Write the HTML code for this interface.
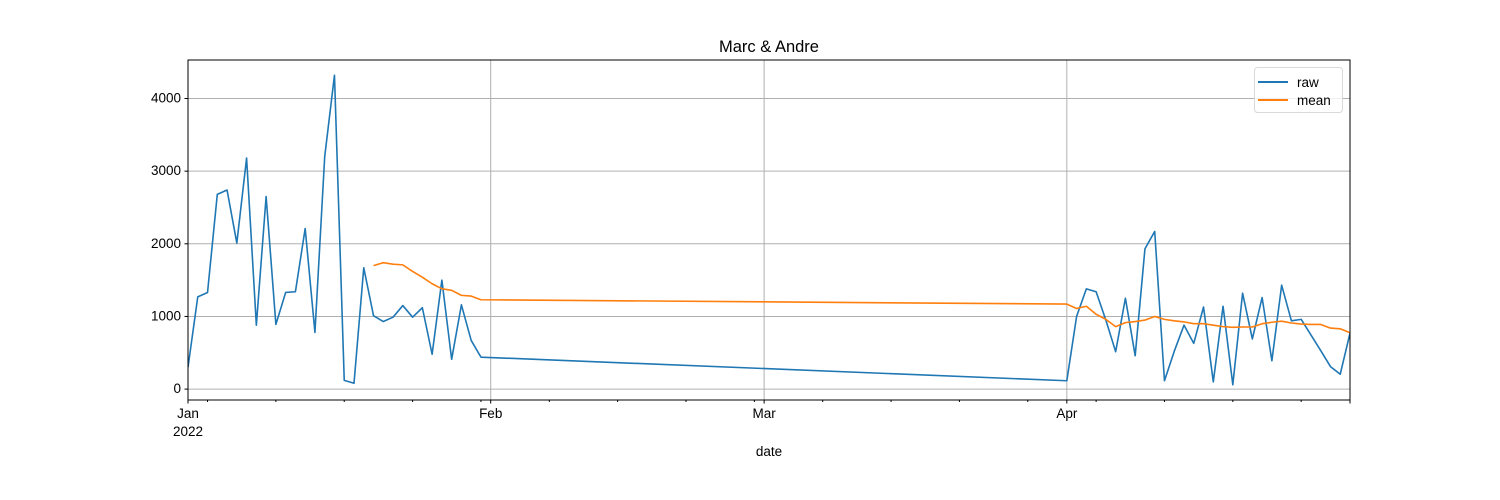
<!DOCTYPE html>
<html><head><meta charset="utf-8">
<style>
html,body{margin:0;padding:0;background:#fff;}
svg{display:block;font-family:"Liberation Sans","DejaVu Sans",sans-serif;}
</style></head>
<body>
<svg id="chart" width="1500" height="500" xmlns="http://www.w3.org/2000/svg"></svg>
<script>
// ---- data ----
const janRawDays = ["2022-01-01","2022-01-02","2022-01-03","2022-01-04","2022-01-05","2022-01-06","2022-01-07","2022-01-08","2022-01-09","2022-01-10","2022-01-11","2022-01-12","2022-01-13","2022-01-14","2022-01-15","2022-01-16","2022-01-17","2022-01-18","2022-01-19","2022-01-20","2022-01-21","2022-01-22","2022-01-23","2022-01-24","2022-01-25","2022-01-26","2022-01-27","2022-01-28","2022-01-29","2022-01-30","2022-01-31"];
const janRawValues = [300,1270,1330,2680,2740,2010,3180,880,2650,890,1330,1340,2210,780,3200,4320,120,80,1670,1010,930,990,1150,990,1120,480,1500,410,1160,670,440];
const aprRawDays = ["2022-04-01","2022-04-02","2022-04-03","2022-04-04","2022-04-05","2022-04-06","2022-04-07","2022-04-08","2022-04-09","2022-04-10","2022-04-11","2022-04-12","2022-04-13","2022-04-14","2022-04-15","2022-04-16","2022-04-17","2022-04-18","2022-04-19","2022-04-20","2022-04-21","2022-04-22","2022-04-23","2022-04-24","2022-04-25","2022-04-26","2022-04-27","2022-04-28","2022-04-29","2022-04-30"];
const aprRawValues = [115,1000,1380,1340,950,515,1250,460,1930,2170,115,520,880,630,1130,100,1140,60,1320,690,1260,390,1430,940,960,745,530,310,205,770];
const janMeanDays = ["2022-01-20","2022-01-21","2022-01-22","2022-01-23","2022-01-24","2022-01-25","2022-01-26","2022-01-27","2022-01-28","2022-01-29","2022-01-30","2022-01-31"];
const janMeanValues = [1700,1740,1720,1710,1620,1540,1450,1380,1360,1290,1280,1230];
const aprMeanValues = [1170,1110,1140,1030,960,860,915,930,950,1000,960,940,925,900,900,880,860,850,855,855,900,920,935,910,895,890,890,840,830,775];
const yTicks = [0,1000,2000,3000,4000];
const monthTicks = ["2022-01-01","2022-02-01","2022-03-01","2022-04-01"];
const monthLabels = ["Jan","Feb","Mar","Apr"];

// ---- layout ----
const L=188, R=1350, T=60, B=400;
const d0 = Date.UTC(2022,0,1), d1 = Date.UTC(2022,3,30);
const dayMs = 86400000;
function tOf(s){const p=s.split("-");return Date.UTC(+p[0],+p[1]-1,+p[2]);}
function xs(s){return L + (tOf(s)-d0)/(d1-d0)*(R-L);}
const yMin=-150, yMax=4530;
function ys(v){return B - (v-yMin)/(yMax-yMin)*(B-T);}

const svg=document.getElementById("chart");
const NS="http://www.w3.org/2000/svg";
function mk(tag,attrs,parent){const e=document.createElementNS(NS,tag);for(const k in attrs)e.setAttribute(k,attrs[k]);(parent||svg).appendChild(e);return e;}

// grid
const grid=mk("g",{});


yTicks.forEach(v=>{const y=ys(v);mk("line",{x1:L,x2:R,y1:y,y2:y,stroke:"#b0b0b0","stroke-width":1},grid);});
monthTicks.forEach(m=>{const x=xs(m);mk("line",{x1:x,x2:x,y1:T,y2:B,stroke:"#b0b0b0","stroke-width":1},grid);});

// series
function poly(days,vals,color,name){
  const pts=days.map((d,i)=>xs(d).toFixed(2)+","+ys(vals[i]).toFixed(2)).join(" ");
  const p=mk("polyline",{points:pts,fill:"none",stroke:color,"stroke-width":1.6,"stroke-linejoin":"round"});
  
  
}
const clip=mk("clipPath",{id:"c"});mk("rect",{x:L,y:T,width:R-L,height:B-T},clip);
const g=mk("g",{"clip-path":"url(#c)"});
const rawDays=janRawDays.concat(aprRawDays), rawVals=janRawValues.concat(aprRawValues);
const meanDays=janMeanDays.concat(aprRawDays), meanVals=janMeanValues.concat(aprMeanValues);
(function(){const pts=rawDays.map((d,i)=>xs(d).toFixed(2)+","+ys(rawVals[i]).toFixed(2)).join(" ");
 const p=mk("polyline",{points:pts,fill:"none",stroke:"#1f77b4","stroke-width":1.6,"stroke-linejoin":"round"},g);
 
 })();
(function(){const pts=meanDays.map((d,i)=>xs(d).toFixed(2)+","+ys(meanVals[i]).toFixed(2)).join(" ");
 const p=mk("polyline",{points:pts,fill:"none",stroke:"#ff7f0e","stroke-width":1.6,"stroke-linejoin":"round"},g);
 
 })();

// frame
const frame=mk("rect",{x:L,y:T,width:R-L,height:B-T,fill:"none",stroke:"#000","stroke-width":1});



// y ticks
yTicks.forEach(v=>{const y=ys(v);mk("line",{x1:L-3.5,x2:L,y1:y,y2:y,stroke:"#000"});
 const t=mk("text",{x:L-7,y:y+4,"text-anchor":"end","font-size":13.5});t.textContent=v;
 
 });

// x minor ticks (Mondays)
for(let t=Date.UTC(2022,0,3);t<=d1;t+=7*dayMs){const x=L+(t-d0)/(d1-d0)*(R-L);mk("line",{x1:x,x2:x,y1:B,y2:B+2,stroke:"#000"});}
// x major ticks
monthTicks.forEach((m,i)=>{const x=xs(m);mk("line",{x1:x,x2:x,y1:B,y2:B+3.5,stroke:"#000"});
 const t=mk("text",{x:x,y:B+18,"text-anchor":"middle","font-size":13.5});t.textContent=monthLabels[i];
 
 });
mk("line",{x1:R,x2:R,y1:B,y2:B+3.5,stroke:"#000"});
const yr=mk("text",{x:L,y:B+36,"text-anchor":"middle","font-size":13.5});yr.textContent="2022";



const xl=mk("text",{x:(L+R)/2,y:456,"text-anchor":"middle","font-size":13.5});xl.textContent="date";


const ti=mk("text",{x:(L+R)/2,y:52,"text-anchor":"middle","font-size":16.5});ti.textContent="Marc & Andre";



// legend
const lg=mk("g",{});


mk("rect",{x:1254.5,y:67.5,width:88,height:45,rx:3,fill:"#fff","fill-opacity":0.8,stroke:"#d9d9d9"},lg);
mk("line",{x1:1258,x2:1288,y1:82,y2:82,stroke:"#1f77b4","stroke-width":2},lg);
mk("line",{x1:1258,x2:1288,y1:100,y2:100,stroke:"#ff7f0e","stroke-width":2},lg);
const l1=mk("text",{x:1297,y:87,"font-size":13.5},lg);l1.textContent="raw";


const l2=mk("text",{x:1297,y:105,"font-size":13.5},lg);l2.textContent="mean";


</script>
</body></html>
